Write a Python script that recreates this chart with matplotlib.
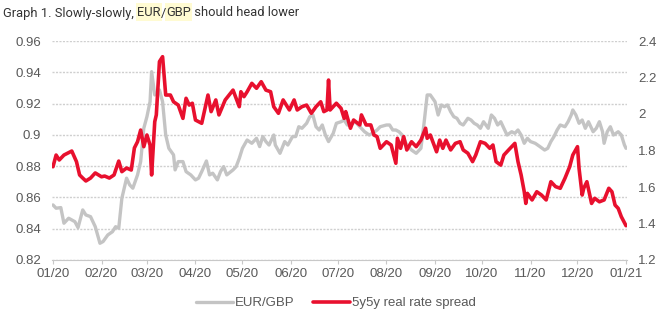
import pandas as pd
import matplotlib
matplotlib.use('Agg')
import matplotlib.pyplot as plt
import matplotlib.dates as mdates
from matplotlib.patches import Rectangle
from matplotlib.ticker import FuncFormatter

# EUR/GBP spot (left axis)
eur_dates = ['2020-01-01', '2020-01-03', '2020-01-06', '2020-01-08', '2020-01-11', '2020-01-15',
             '2020-01-17', '2020-01-20', '2020-01-22', '2020-01-25', '2020-01-28', '2020-01-31',
             '2020-02-02', '2020-02-05', '2020-02-08', '2020-02-10', '2020-02-12', '2020-02-14',
             '2020-02-17', '2020-02-19', '2020-02-21', '2020-02-24', '2020-02-26', '2020-02-28',
             '2020-03-01', '2020-03-03', '2020-03-04', '2020-03-06', '2020-03-09', '2020-03-11',
             '2020-03-13', '2020-03-15', '2020-03-18', '2020-03-19', '2020-03-21', '2020-03-24',
             '2020-03-26', '2020-03-29', '2020-04-01', '2020-04-03', '2020-04-05', '2020-04-08',
             '2020-04-10', '2020-04-12', '2020-04-15', '2020-04-17', '2020-04-19', '2020-04-21',
             '2020-04-25', '2020-04-27', '2020-04-29', '2020-05-01', '2020-05-04', '2020-05-07',
             '2020-05-10', '2020-05-12', '2020-05-14', '2020-05-16', '2020-05-18', '2020-05-21',
             '2020-05-22', '2020-05-25', '2020-05-28', '2020-05-30', '2020-06-02', '2020-06-04',
             '2020-06-06', '2020-06-08', '2020-06-11', '2020-06-13', '2020-06-15', '2020-06-17',
             '2020-06-19', '2020-06-21', '2020-06-23', '2020-06-25', '2020-06-28', '2020-06-30',
             '2020-07-03', '2020-07-05', '2020-07-07', '2020-07-09', '2020-07-12', '2020-07-15',
             '2020-07-18', '2020-07-21', '2020-07-23', '2020-07-26', '2020-07-28', '2020-08-01',
             '2020-08-03', '2020-08-05', '2020-08-07', '2020-08-09', '2020-08-11', '2020-08-14',
             '2020-08-17', '2020-08-20', '2020-08-23', '2020-08-25', '2020-08-27', '2020-08-29',
             '2020-09-01', '2020-09-03', '2020-09-05', '2020-09-07', '2020-09-09', '2020-09-11',
             '2020-09-13', '2020-09-15', '2020-09-17', '2020-09-19', '2020-09-22', '2020-09-24',
             '2020-09-26', '2020-09-28', '2020-09-30', '2020-10-02', '2020-10-05', '2020-10-07',
             '2020-10-09', '2020-10-11', '2020-10-13', '2020-10-15', '2020-10-17', '2020-10-20',
             '2020-10-22', '2020-10-24', '2020-10-26', '2020-10-28', '2020-10-30', '2020-11-01',
             '2020-11-04', '2020-11-07', '2020-11-10', '2020-11-12', '2020-11-14', '2020-11-16',
             '2020-11-18', '2020-11-20', '2020-11-23', '2020-11-25', '2020-11-27', '2020-11-28',
             '2020-11-30', '2020-12-02', '2020-12-04', '2020-12-06', '2020-12-08', '2020-12-11',
             '2020-12-13', '2020-12-15', '2020-12-17', '2020-12-18', '2020-12-20', '2020-12-22',
             '2020-12-24', '2020-12-27', '2020-12-29', '2020-12-31', '2021-01-01']
eur_vals = [0.8552, 0.8531, 0.8535, 0.8435, 0.8467, 0.8445,
            0.8407, 0.8520, 0.8488, 0.8477, 0.8413, 0.8307,
            0.8318, 0.8360, 0.8381, 0.8413, 0.8403, 0.8595,
            0.8723, 0.8680, 0.8659, 0.8744, 0.8829, 0.9042,
            0.9116, 0.9212, 0.9404, 0.9255, 0.9287, 0.9212,
            0.8999, 0.8914, 0.8872, 0.8776, 0.8829, 0.8829,
            0.8765, 0.8744, 0.8712, 0.8723, 0.8765, 0.8833,
            0.8744, 0.8755, 0.8712, 0.8765, 0.8797, 0.8744,
            0.8776, 0.8797, 0.8850, 0.8914, 0.8967, 0.8946,
            0.8978, 0.8925, 0.8989, 0.8957, 0.8935, 0.8999,
            0.8935, 0.8882, 0.8957, 0.8935, 0.8989, 0.8989,
            0.9052, 0.9042, 0.9074, 0.9116, 0.9127, 0.9052,
            0.9031, 0.9063, 0.8999, 0.8957, 0.9010, 0.9074,
            0.9084, 0.9095, 0.9063, 0.9063, 0.9084, 0.9052,
            0.9020, 0.8999, 0.9010, 0.9031, 0.9052, 0.9063,
            0.9063, 0.9031, 0.9031, 0.9020, 0.8999, 0.8935,
            0.8903, 0.8882, 0.8914, 0.9074, 0.9255, 0.9255,
            0.9212, 0.9127, 0.9191, 0.9180, 0.9191, 0.9148,
            0.9116, 0.9106, 0.9074, 0.9063, 0.9106, 0.9095,
            0.9074, 0.9063, 0.9042, 0.9084, 0.9042, 0.9127,
            0.9106, 0.9063, 0.9084, 0.9042, 0.8999, 0.9020,
            0.9010, 0.9031, 0.8999, 0.8946, 0.8978, 0.8957,
            0.8946, 0.8925, 0.8903, 0.8914, 0.8957, 0.8989,
            0.9031, 0.9063, 0.9052, 0.9084, 0.9127, 0.9159,
            0.9127, 0.9074, 0.9095, 0.9042, 0.9084, 0.9020,
            0.9042, 0.9084, 0.9020, 0.8946, 0.9020, 0.9052,
            0.8999, 0.9020, 0.8999, 0.8935, 0.8914]

# 5y5y real rate spread (right axis)
spread_dates = ['2020-01-01', '2020-01-03', '2020-01-05', '2020-01-08', '2020-01-13', '2020-01-16',
                '2020-01-18', '2020-01-20', '2020-01-22', '2020-01-25', '2020-01-28', '2020-02-01',
                '2020-02-03', '2020-02-06', '2020-02-09', '2020-02-12', '2020-02-14', '2020-02-17',
                '2020-02-20', '2020-02-22', '2020-02-24', '2020-02-26', '2020-02-28', '2020-03-01',
                '2020-03-03', '2020-03-04', '2020-03-06', '2020-03-07', '2020-03-09', '2020-03-11',
                '2020-03-13', '2020-03-16', '2020-03-18', '2020-03-21', '2020-03-24', '2020-03-26',
                '2020-03-28', '2020-03-30', '2020-04-01', '2020-04-05', '2020-04-09', '2020-04-11',
                '2020-04-14', '2020-04-16', '2020-04-20', '2020-04-25', '2020-04-27', '2020-04-29',
                '2020-04-30', '2020-05-02', '2020-05-04', '2020-05-07', '2020-05-10', '2020-05-13',
                '2020-05-16', '2020-05-19', '2020-05-21', '2020-05-24', '2020-05-27', '2020-05-31',
                '2020-06-03', '2020-06-05', '2020-06-08', '2020-06-11', '2020-06-14', '2020-06-17',
                '2020-06-20', '2020-06-22', '2020-06-24', '2020-06-25', '2020-06-26', '2020-06-30',
                '2020-07-03', '2020-07-05', '2020-07-06', '2020-07-09', '2020-07-11', '2020-07-15',
                '2020-07-16', '2020-07-19', '2020-07-22', '2020-07-24', '2020-07-26', '2020-07-28',
                '2020-08-01', '2020-08-04', '2020-08-07', '2020-08-08', '2020-08-10', '2020-08-12',
                '2020-08-14', '2020-08-17', '2020-08-20', '2020-08-23', '2020-08-26', '2020-08-27',
                '2020-08-29', '2020-09-02', '2020-09-04', '2020-09-06', '2020-09-08', '2020-09-11',
                '2020-09-14', '2020-09-17', '2020-09-19', '2020-09-22', '2020-09-25', '2020-09-27',
                '2020-09-30', '2020-10-03', '2020-10-06', '2020-10-08', '2020-10-10', '2020-10-13',
                '2020-10-15', '2020-10-18', '2020-10-22', '2020-10-24', '2020-10-26', '2020-10-28',
                '2020-10-29', '2020-10-30', '2020-11-02', '2020-11-05', '2020-11-08', '2020-11-11',
                '2020-11-14', '2020-11-17', '2020-11-20', '2020-11-23', '2020-11-26', '2020-11-28',
                '2020-12-01', '2020-12-02', '2020-12-04', '2020-12-05', '2020-12-07', '2020-12-10',
                '2020-12-12', '2020-12-15', '2020-12-18', '2020-12-21', '2020-12-23', '2020-12-25',
                '2020-12-27', '2020-12-29', '2021-01-01']
spread_vals = [1.711, 1.775, 1.748, 1.775, 1.797, 1.739,
               1.666, 1.649, 1.633, 1.649, 1.677, 1.656,
               1.660, 1.649, 1.666, 1.742, 1.684, 1.704,
               1.693, 1.814, 1.848, 1.912, 1.821, 1.885,
               1.830, 1.666, 1.958, 1.995, 2.287, 2.314,
               2.104, 2.104, 2.067, 2.049, 1.976, 2.086,
               2.049, 2.059, 1.967, 1.949, 2.104, 2.013,
               2.077, 1.995, 2.077, 2.131, 2.086, 2.040,
               2.122, 2.095, 2.122, 2.168, 2.141, 2.177,
               2.131, 2.122, 2.040, 2.004, 2.077, 2.022,
               2.077, 2.022, 2.040, 2.049, 2.004, 2.040,
               2.067, 2.013, 2.022, 2.186, 2.022, 2.059,
               2.031, 1.976, 2.013, 1.922, 1.967, 1.940,
               1.995, 1.940, 1.940, 1.885, 1.876, 1.812,
               1.848, 1.830, 1.730, 1.867, 1.812, 1.876,
               1.803, 1.848, 1.821, 1.857, 1.922, 1.867,
               1.885, 1.793, 1.857, 1.812, 1.857, 1.803,
               1.839, 1.848, 1.803, 1.785, 1.739, 1.775,
               1.848, 1.839, 1.812, 1.830, 1.739, 1.720,
               1.775, 1.803, 1.839, 1.739, 1.666, 1.574,
               1.510, 1.565, 1.529, 1.574, 1.556, 1.529,
               1.629, 1.602, 1.593, 1.648, 1.711, 1.775,
               1.821, 1.702, 1.556, 1.593, 1.629, 1.510,
               1.538, 1.519, 1.529, 1.593, 1.574, 1.501,
               1.483, 1.437, 1.388]

left_ticks = [0.82, 0.84, 0.86, 0.88, 0.90, 0.92, 0.94, 0.96]
right_ticks = [1.2, 1.4, 1.6, 1.8, 2.0, 2.2, 2.4]

GREY = '#c4c4c4'
RED = '#e8102e'
TXT = '#595959'

plt.rcParams['font.family'] = ['Liberation Sans', 'DejaVu Sans']

fig = plt.figure(figsize=(6.66, 3.24), dpi=100)
W, H = 666, 324
ax = fig.add_axes([52 / W, 1 - 260 / H, 575 / W, 219 / H])
ax2 = ax.twinx()

eur_x = pd.to_datetime(eur_dates)
spread_x = pd.to_datetime(spread_dates)

l1, = ax.plot(eur_x, eur_vals, color=GREY, lw=2.4, solid_capstyle='round', label='EUR/GBP')
l2, = ax2.plot(spread_x, spread_vals, color=RED, lw=2.6, solid_capstyle='round',
               label='5y5y real rate spread')

x0 = pd.Timestamp('2020-01-01') - pd.Timedelta(hours=15)
x1 = pd.Timestamp('2021-01-01') + pd.Timedelta(hours=15)
ax.set_xlim(x0, x1)

ax.set_ylim(0.82, 0.96)
ax.set_yticks(left_ticks)
ax2.set_ylim(1.2, 2.4)
ax2.set_yticks(right_ticks)
fmt = FuncFormatter(lambda v, p: '%g' % round(v, 2))
ax.yaxis.set_major_formatter(fmt)
ax2.yaxis.set_major_formatter(fmt)

ax.grid(axis='y', color='#cfcfcf', lw=1.0, ls=(0, (1.5, 1)))
ax.set_axisbelow(True)

ax.xaxis.set_major_locator(mdates.MonthLocator())
ax.xaxis.set_major_formatter(mdates.DateFormatter('%m/%y'))

for a in (ax, ax2):
    for s in ('top', 'left', 'right', 'bottom'):
        a.spines[s].set_visible(False)
ax.spines['bottom'].set_visible(True)
ax.spines['bottom'].set_color('#c8c8c8')
ax.spines['bottom'].set_linestyle((0, (1.5, 1)))

ax.tick_params(axis='x', direction='out', length=3, color='#c8c8c8', labelsize=9.5,
               labelcolor=TXT, pad=3)
ax.tick_params(axis='y', length=0, labelsize=9.5, labelcolor=TXT, pad=8)
ax2.tick_params(axis='y', length=0, labelsize=9.5, labelcolor=TXT, pad=8)

ax2.set_zorder(ax.get_zorder() + 1)
ax.patch.set_visible(False)

fig.legend(handles=[l1, l2], loc='center', bbox_to_anchor=(336 / W, 1 - 303 / H),
           ncol=2, frameon=False, fontsize=9.5, labelcolor=TXT, handlelength=2.8,
           handletextpad=0.15, columnspacing=1.4)

# title with highlighted currency codes
title_parts = [('Graph 1. Slowly-slowly, ', False), ('EUR', True), ('/', False),
               ('GBP', True), (' should head lower', False)]
renderer = fig.canvas.get_renderer()
tx = 3 / W
for txt, hl in title_parts:
    t = fig.text(tx, 1 - 13 / H, txt, family='Roboto', fontsize=9.3, color='#333333',
                 va='center', ha='left', zorder=3)
    bb = t.get_window_extent(renderer)
    if hl:
        fig.patches.append(Rectangle(((bb.x0 - 1) / W, 1 - 21 / H), (bb.width + 2) / W, 18 / H,
                                     transform=fig.transFigure, fc='#fffbd2', ec='none',
                                     zorder=1))
    tx = bb.x1 / W

fig.savefig('out.png', dpi=100)
